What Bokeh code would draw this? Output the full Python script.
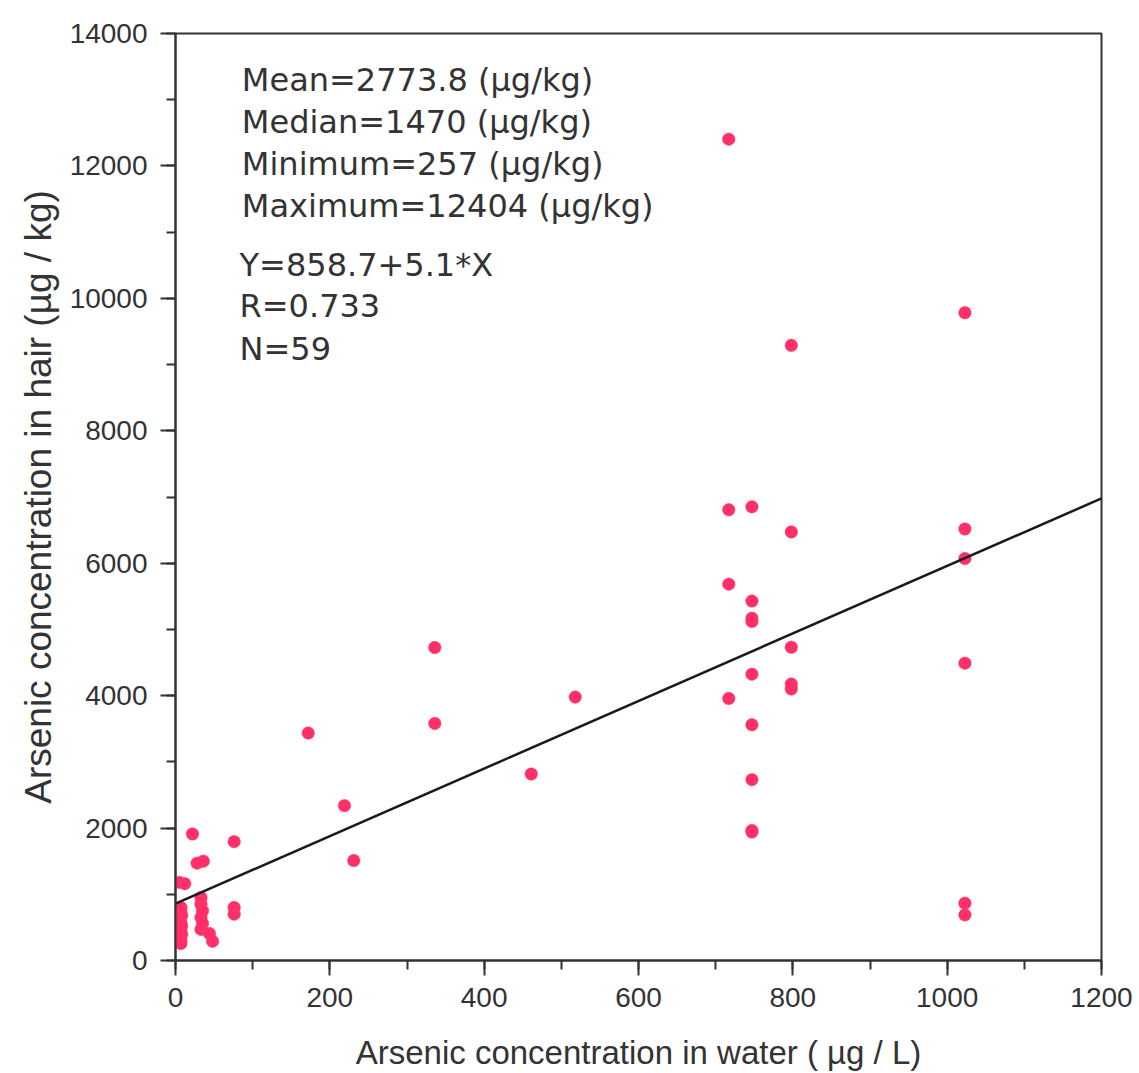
from bokeh.plotting import figure
from bokeh.models import Range1d, SingleIntervalTicker, ColumnDataSource
from bokeh.core.properties import value
from bokeh.embed import file_html
from bokeh.resources import INLINE

# ---- data ----
water_as = [717, 717, 717, 717,
            747, 747, 747, 747, 747, 747, 747, 747, 747,
            798, 798, 798, 798, 798,
            1023, 1023, 1023, 1023, 1023, 1023,
            336, 336, 518, 172, 461, 219, 231,
            22, 76, 28, 36, 5, 12, 33, 33, 35, 33, 35, 33, 44, 48, 76, 76,
            7, 7, 6, 8, 7, 6, 8, 7, 6, 8, 7, 7]
hair_as = [12404, 6807, 5684, 3957,
           6852, 5428, 5170, 5120, 4324, 3560, 2731, 1965, 1940,
           9290, 6472, 4731, 4175, 4100,
           9782, 6517, 6071, 4491, 865, 689,
           4727, 3580, 3978, 3435, 2816, 2338, 1509,
           1911, 1795, 1470, 1500, 1180, 1160, 950, 850, 750, 650, 560, 470, 407, 290, 800, 700,
           257, 300, 340, 390, 430, 480, 520, 570, 620, 680, 740, 800]

fit_intercept = 858.7
fit_slope = 5.1

stats_lines = ["Mean=2773.8 (µg/kg)", "Median=1470 (µg/kg)",
               "Minimum=257 (µg/kg)", "Maximum=12404 (µg/kg)"]
fit_lines = ["Y=858.7+5.1*X", "R=0.733", "N=59"]

x_label = "Arsenic concentration in water ( µg / L)"
y_label = "Arsenic concentration in hair (µg / kg)"

X_MIN, X_MAX = 0, 1200
Y_MIN, Y_MAX = 0, 14000

# ---- figure ----
W, H = 1139, 1073
p = figure(width=W, height=H,
           x_range=Range1d(X_MIN, X_MAX), y_range=Range1d(Y_MIN, Y_MAX),
           output_backend="svg", toolbar_location=None,
           min_border_left=175, min_border_right=W - 1101,
           min_border_top=33, min_border_bottom=H - 960)
p.background_fill_color = "white"
p.border_fill_color = "white"
p.xgrid.visible = False
p.ygrid.visible = False
p.outline_line_color = "#333333"
p.outline_line_width = 2

AX = "#333333"
p.xaxis.ticker = SingleIntervalTicker(interval=200, num_minor_ticks=2)
p.yaxis.ticker = SingleIntervalTicker(interval=2000, num_minor_ticks=2)
for ax in (p.xaxis[0], p.yaxis[0]):
    ax.axis_line_color = AX
    ax.axis_line_width = 2
    ax.major_tick_line_color = AX
    ax.major_tick_line_width = 2
    ax.minor_tick_line_color = AX
    ax.minor_tick_line_width = 2
    ax.major_tick_in = 0
    ax.major_tick_out = 15
    ax.minor_tick_in = 0
    ax.minor_tick_out = 9
    ax.major_label_text_font = "Liberation Sans"
    ax.major_label_text_font_size = "28px"
    ax.major_label_text_color = "#333333"
    ax.axis_label_text_font = "Liberation Sans"
    ax.axis_label_text_font_style = "normal"
    ax.axis_label_text_color = "#333333"

p.xaxis.major_label_standoff = 12
p.yaxis.major_label_standoff = 13
p.xaxis.axis_label = x_label
p.yaxis.axis_label = y_label
p.xaxis.axis_label_text_font_size = "33px"
p.yaxis.axis_label_text_font_size = "37px"
p.xaxis.axis_label_standoff = 24
p.yaxis.axis_label_standoff = 8

# ---- data points ----
src = ColumnDataSource(dict(x=water_as, y=hair_as))
p.scatter("x", "y", source=src, size=12.5, marker="circle",
          fill_color="#FF3068", line_color="#FF3068", line_width=0.5)

# ---- regression line ----
fit_x = [X_MIN, X_MAX]
fit_y = [fit_intercept + fit_slope * v for v in fit_x]
p.line(fit_x, fit_y, line_color="#1a1a1a", line_width=2.5)

# ---- annotation text ----
frame_top_px, frame_bot_px = 33, 960
def py_to_data(py):
    return (frame_bot_px - py) * (Y_MAX - Y_MIN) / (frame_bot_px - frame_top_px)

text_x = 86
stats_py = [79, 121, 163, 205]
fit_py = [264, 305, 348]
p.text(x=[text_x] * len(stats_lines), y=[py_to_data(v) for v in stats_py],
       text=stats_lines, text_font=value("DejaVu Sans"), text_font_size="32px",
       text_baseline="middle", text_align="left", text_color="#333333")
p.text(x=[text_x - 3] * len(fit_lines), y=[py_to_data(v) for v in fit_py],
       text=fit_lines, text_font=value("DejaVu Sans"), text_font_size="32px",
       text_baseline="middle", text_align="left", text_color="#333333")

open("out.html", "w").write(file_html(p, INLINE))
